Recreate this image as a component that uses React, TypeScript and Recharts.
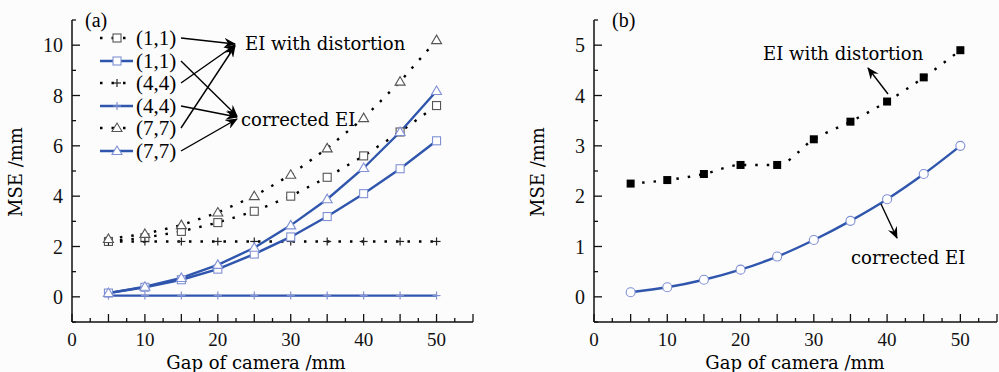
import React from "react";
import { Line, LineChart, XAxis, YAxis } from "recharts";

const GAP = [5, 10, 15, 20, 25, 30, 35, 40, 45, 50];

// panel (a)
const A_DIST_11 = [2.2, 2.35, 2.6, 2.95, 3.4, 4.0, 4.75, 5.6, 6.55, 7.6];
const A_CORR_11 = [0.15, 0.38, 0.68, 1.1, 1.7, 2.38, 3.19, 4.1, 5.09, 6.2];
const A_DIST_44 = [2.2, 2.2, 2.2, 2.2, 2.2, 2.2, 2.2, 2.2, 2.2, 2.2];
const A_CORR_44 = [0.05, 0.05, 0.05, 0.05, 0.05, 0.05, 0.05, 0.05, 0.05, 0.05];
const A_DIST_77 = [2.3, 2.5, 2.85, 3.35, 4.0, 4.85, 5.9, 7.1, 8.55, 10.2];
const A_CORR_77 = [0.15, 0.4, 0.75, 1.27, 1.95, 2.84, 3.88, 5.12, 6.55, 8.18];

// panel (b)
const B_DIST = [2.25, 2.32, 2.44, 2.62, 2.62, 3.13, 3.48, 3.88, 4.36, 4.9];
const B_CORR = [0.09, 0.19, 0.34, 0.54, 0.8, 1.13, 1.51, 1.94, 2.44, 3.0];

const X_TICKS = [0, 2.5, 5, 7.5, 10, 12.5, 15, 17.5, 20, 22.5, 25, 27.5, 30, 32.5, 35, 37.5, 40, 42.5, 45, 47.5, 50, 52.5, 55];
const X_LABELS = [0, 10, 20, 30, 40, 50];
const A_Y_TICKS = [-1, 0, 1, 2, 3, 4, 5, 6, 7, 8, 9, 10, 11];
const A_Y_LABELS = [0, 2, 4, 6, 8, 10];
const B_Y_TICKS = [-0.5, 0, 0.5, 1, 1.5, 2, 2.5, 3, 3.5, 4, 4.5, 5, 5.5];
const B_Y_LABELS = [0, 1, 2, 3, 4, 5];

const LEGEND = ["(1,1)", "(1,1)", "(4,4)", "(4,4)", "(7,7)", "(7,7)"];

const BLUE = "#2f55ad";
const MARK_BLUE = "#7f90d4";
const GREY = "#555";
const TICK_FONT = "'Liberation Serif', serif";
const TEXT_FONT = "'DejaVu Serif', serif";

const rowsA = GAP.map((g, i) => ({
  gap: g,
  d11: A_DIST_11[i],
  c11: A_CORR_11[i],
  d44: A_DIST_44[i],
  c44: A_CORR_44[i],
  d77: A_DIST_77[i],
  c77: A_CORR_77[i],
}));

const rowsB = GAP.map((g, i) => ({ gap: g, dist: B_DIST[i], corr: B_CORR[i] }));

type Mark = "square" | "tri" | "plus" | "fsquare" | "circle";

function marker(kind: Mark, cx: number, cy: number, color: string, key?: string) {
  if (kind === "square")
    return <rect key={key} x={cx - 4} y={cy - 4} width={8} height={8} fill="#fff" stroke={color} strokeWidth={1.1} />;
  if (kind === "fsquare")
    return <rect key={key} x={cx - 4} y={cy - 4} width={8} height={8} fill="#000" />;
  if (kind === "tri")
    return (
      <path key={key} d={`M${cx},${cy - 5} L${cx + 5},${cy + 3.5} L${cx - 5},${cy + 3.5} Z`} fill="#fff" stroke={color} strokeWidth={1.1} />
    );
  if (kind === "circle")
    return <circle key={key} cx={cx} cy={cy} r={4.5} fill="#fff" stroke={color} strokeWidth={1.1} />;
  return (
    <g key={key} stroke={color} strokeWidth={1.2}>
      <line x1={cx - 4} x2={cx + 4} y1={cy} y2={cy} />
      <line x1={cx} x2={cx} y1={cy - 4} y2={cy + 4} />
    </g>
  );
}

const dotOf = (kind: Mark, color: string) => (p: any) => marker(kind, p.cx, p.cy, color, `${kind}-${p.index}`);

const makeXTick = (p: any) => {
  const v = p.payload.value;
  const major = Number.isInteger(v / 5);
  const ay = p.y - 8;
  return (
    <g>
      <line x1={p.x} x2={p.x} y1={ay} y2={ay - (major ? 8 : 4)} stroke="#111" strokeWidth={1.3} />
      {X_LABELS.includes(v) && (
        <text x={p.x} y={ay + 17} textAnchor="middle" dominantBaseline="central" fontFamily={TICK_FONT} fontSize={19} fill="#111">
          {v}
        </text>
      )}
    </g>
  );
};

const makeYTick = (labels: number[], isMajor: (v: number) => boolean) => (p: any) => {
  const v = p.payload.value;
  const ax = p.x + 8;
  return (
    <g>
      <line x1={ax} x2={ax + (isMajor(v) ? 8 : 4)} y1={p.y} y2={p.y} stroke="#111" strokeWidth={1.3} />
      {labels.includes(v) && (
        <text x={ax - 9} y={p.y} textAnchor="end" dominantBaseline="central" fontFamily={TICK_FONT} fontSize={20} fill="#111">
          {v}
        </text>
      )}
    </g>
  );
};

const Arrow = ({ x1, y1, x2, y2 }: { x1: number; y1: number; x2: number; y2: number }) => (
  <line x1={x1} y1={y1} x2={x2} y2={y2} stroke="#000" strokeWidth={1.4} markerEnd="url(#ah)" />
);

const Defs = () => (
  <defs>
    <marker id="ah" markerUnits="userSpaceOnUse" markerWidth={12} markerHeight={10} refX={11} refY={5} orient="auto">
      <path d="M0,0 L12,5 L0,10 L4,5 Z" fill="#000" />
    </marker>
  </defs>
);

const overlay: React.CSSProperties = { position: "absolute", left: 0, top: 0, pointerEvents: "none" };

function PanelA() {
  const legendKinds: Mark[] = ["square", "square", "plus", "plus", "tri", "tri"];
  const legendY = [38, 61, 83, 106, 128, 151];
  return (
    <div style={{ position: "absolute", left: 0, top: 0, width: 500, height: 372 }}>
      <LineChart width={500} height={372} data={rowsA} margin={{ top: 20, right: 27, bottom: 0, left: 0 }}>
        <XAxis
          type="number"
          dataKey="gap"
          domain={[0, 55]}
          ticks={X_TICKS}
          interval={0}
          height={50}
          tickSize={0}
          tickMargin={8}
          tick={makeXTick}
          axisLine={{ stroke: "#111", strokeWidth: 1.5 }}
        />
        <YAxis
          type="number"
          domain={[-1, 11]}
          ticks={A_Y_TICKS}
          interval={0}
          width={72}
          tickSize={0}
          tickMargin={8}
          tick={makeYTick(A_Y_LABELS, (v) => v % 2 === 0)}
          axisLine={{ stroke: "#111", strokeWidth: 1.5 }}
        />
        <Line dataKey="d11" stroke="#000" strokeWidth={2.4} strokeDasharray="2.5 9" dot={dotOf("square", GREY)} isAnimationActive={false} />
        <Line dataKey="d44" stroke="#000" strokeWidth={2.4} strokeDasharray="2.5 9" dot={dotOf("plus", "#222")} isAnimationActive={false} />
        <Line dataKey="d77" stroke="#000" strokeWidth={2.4} strokeDasharray="2.5 9" dot={dotOf("tri", GREY)} isAnimationActive={false} />
        <Line dataKey="c44" stroke={BLUE} strokeWidth={2.2} dot={dotOf("plus", MARK_BLUE)} isAnimationActive={false} />
        <Line dataKey="c11" stroke={BLUE} strokeWidth={2.4} dot={dotOf("square", MARK_BLUE)} isAnimationActive={false} />
        <Line dataKey="c77" stroke={BLUE} strokeWidth={2.4} dot={dotOf("tri", MARK_BLUE)} isAnimationActive={false} />
      </LineChart>
      <svg width={500} height={372} style={overlay}>
        <Defs />
        <text x={85} y={20} dominantBaseline="central" fontFamily={TICK_FONT} fontSize={20}>(a)</text>
        {LEGEND.map((name, i) => {
          const y = legendY[i];
          const dotted = i % 2 === 0;
          const color = dotted ? "#000" : BLUE;
          const mc = dotted ? (legendKinds[i] === "plus" ? "#222" : GREY) : MARK_BLUE;
          return (
            <g key={i}>
              <line x1={100} x2={133} y1={y} y2={y} stroke={color} strokeWidth={2.4} strokeDasharray={dotted ? "2.5 9" : undefined} />
              {marker(legendKinds[i], 117, y, mc)}
              <text x={136} y={y} dominantBaseline="central" fontFamily={TICK_FONT} fontSize={21}>{name}</text>
            </g>
          );
        })}
        <Arrow x1={181} y1={38} x2={235} y2={44} />
        <Arrow x1={181} y1={83} x2={235} y2={45} />
        <Arrow x1={181} y1={128} x2={235} y2={46} />
        <Arrow x1={181} y1={61} x2={237} y2={116} />
        <Arrow x1={181} y1={106} x2={237} y2={117} />
        <Arrow x1={181} y1={151} x2={237} y2={119} />
        <text x={245} y={43} dominantBaseline="central" fontFamily={TEXT_FONT} fontSize={18}>EI with distortion</text>
        <text x={241} y={119} dominantBaseline="central" fontFamily={TEXT_FONT} fontSize={18}>corrected EI</text>
        <text x={15} y={172} transform="rotate(-90 15 172)" textAnchor="middle" dominantBaseline="central" fontFamily={TEXT_FONT} fontSize={18}>MSE /mm</text>
        <text x={256} y={362} textAnchor="middle" dominantBaseline="central" fontFamily={TEXT_FONT} fontSize={18}>Gap of camera /mm</text>
      </svg>
    </div>
  );
}

function PanelB() {
  return (
    <div style={{ position: "absolute", left: 500, top: 0, width: 499, height: 372 }}>
      <LineChart width={499} height={372} data={rowsB} margin={{ top: 20, right: 2, bottom: 0, left: 0 }}>
        <XAxis
          type="number"
          dataKey="gap"
          domain={[0, 55]}
          ticks={X_TICKS}
          interval={0}
          height={50}
          tickSize={0}
          tickMargin={8}
          tick={makeXTick}
          axisLine={{ stroke: "#111", strokeWidth: 1.5 }}
        />
        <YAxis
          type="number"
          domain={[-0.5, 5.5]}
          ticks={B_Y_TICKS}
          interval={0}
          width={94}
          tickSize={0}
          tickMargin={8}
          tick={makeYTick(B_Y_LABELS, (v) => Number.isInteger(v))}
          axisLine={{ stroke: "#111", strokeWidth: 1.5 }}
        />
        <Line type="monotone" dataKey="dist" stroke="#000" strokeWidth={2.4} strokeDasharray="2.5 9" dot={dotOf("fsquare", "#000")} isAnimationActive={false} />
        <Line type="monotone" dataKey="corr" stroke={BLUE} strokeWidth={2.4} dot={dotOf("circle", MARK_BLUE)} isAnimationActive={false} />
      </LineChart>
      <svg width={499} height={372} style={overlay}>
        <Defs />
        <text x={112} y={20} dominantBaseline="central" fontFamily={TICK_FONT} fontSize={20}>(b)</text>
        <text x={263} y={53} dominantBaseline="central" fontFamily={TEXT_FONT} fontSize={18}>EI with distortion</text>
        <Arrow x1={388} y1={94} x2={368} y2={68} />
        <text x={351} y={257} dominantBaseline="central" fontFamily={TEXT_FONT} fontSize={18}>corrected EI</text>
        <Arrow x1={381} y1={204} x2={397} y2={238} />
        <text x={37} y={172} transform="rotate(-90 37 172)" textAnchor="middle" dominantBaseline="central" fontFamily={TEXT_FONT} fontSize={18}>MSE /mm</text>
        <text x={295} y={362} textAnchor="middle" dominantBaseline="central" fontFamily={TEXT_FONT} fontSize={18}>Gap of camera /mm</text>
      </svg>
    </div>
  );
}

export default function App() {
  return (
    <div style={{ position: "absolute", left: 0, top: 0, width: 999, height: 372, background: "#fcfcfc", overflow: "hidden" }}>
      <PanelA />
      <PanelB />
    </div>
  );
}
